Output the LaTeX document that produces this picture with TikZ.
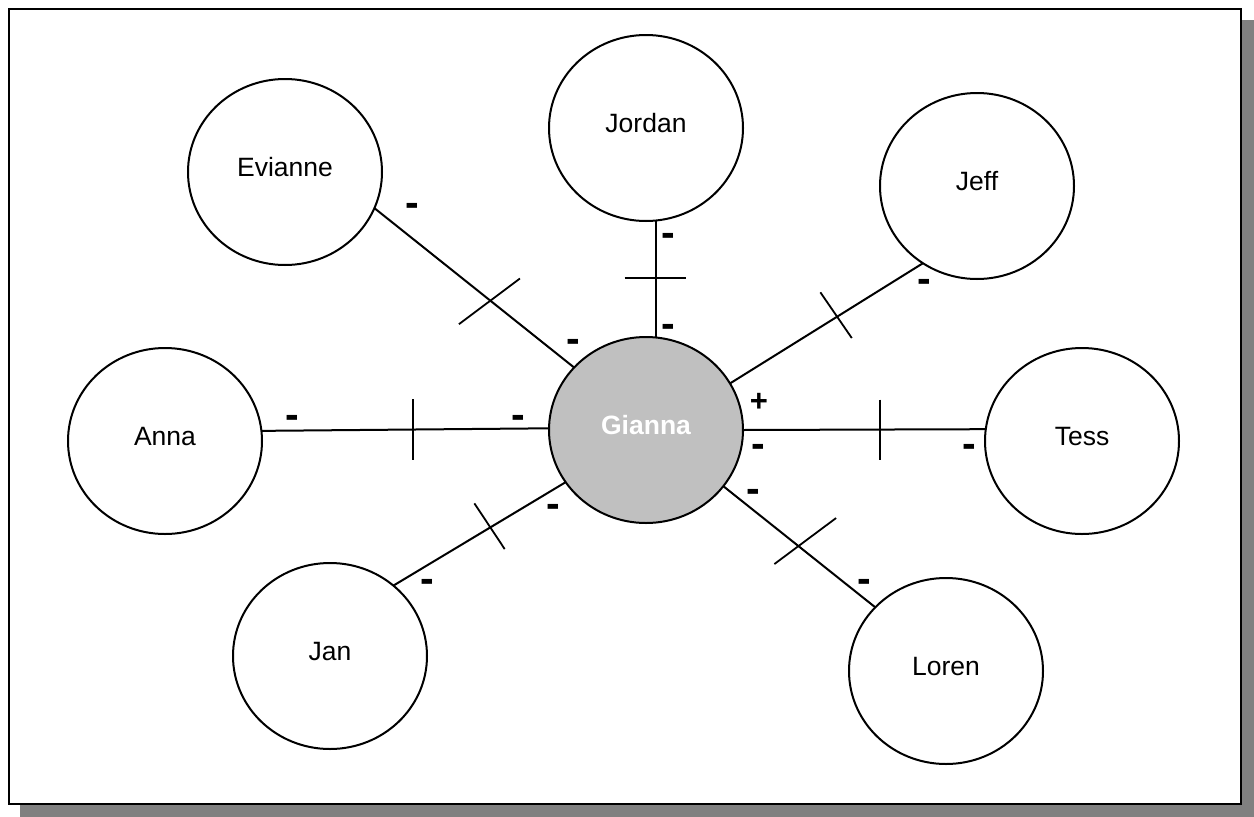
\documentclass[tikz,border=0pt]{standalone}
\usepackage{fontspec}
\setmainfont{Liberation Sans}
\usetikzlibrary{shapes.geometric,calc}
\definecolor{shadowgray}{HTML}{808080}
\definecolor{centergray}{HTML}{C0C0C0}
\begin{document}
\begin{tikzpicture}[x=1pt,y=-1pt,
  person/.style={ellipse, draw, line width=2pt, fill=white,
    minimum width=194pt, minimum height=186pt, inner sep=0pt, outer sep=0pt,
    font=\fontsize{26.5}{30}\selectfont, text height=19pt, text depth=10pt},
  link/.style={line width=2pt},
  tickmark/.style={line width=1.8pt},
  minussign/.style={font=\fontsize{41}{44}\selectfont\bfseries, inner sep=0pt,
    text height=21.3pt, text depth=0pt},
  plussign/.style={font=\fontsize{31}{34}\selectfont\bfseries, inner sep=0pt,
    text height=22pt, text depth=0pt}
]
\useasboundingbox (0,0) rectangle (1254,817);
\fill[shadowgray] (20,20) rectangle (1254,817);
\draw[line width=2pt, fill=white] (9,9) rectangle (1241,804);

% people
\node[person, fill=centergray, text=white, font=\fontsize{26.5}{30}\selectfont\bfseries] (gianna) at (646,430) {Gianna};
\node[person] (jordan)  at (646,128) {Jordan};
\node[person] (evianne) at (285,172) {Evianne};
\node[person] (jeff)    at (977,186) {Jeff};
\node[person] (anna)    at (165,441) {Anna};
\node[person] (tess)    at (1082,441) {Tess};
\node[person] (jan)     at (330,656) {Jan};
\node[person] (loren)   at (946,671) {Loren};

% links
\draw[link] (gianna.84.4)  -- (jordan.-84.5)  coordinate[pos=0.507] (tJordan);
\draw[link] (gianna.139.2) -- (evianne.-22.2) coordinate[pos=0.418] (tEvianne);
\draw[link] (gianna.29.6)  -- (jeff.235)      coordinate[pos=0.555] (tJeff);
\draw[link] (gianna.179.6) -- (anna.6.8)      coordinate[pos=0.474] (tAnna);
\draw[link] (gianna.0.4)   -- (tess.173)      coordinate[pos=0.565] (tTess);
\draw[link] (gianna.213)   -- (jan.48)        coordinate[pos=0.437] (tJan);
\draw[link] (gianna.-36.5) -- (loren.138.3)   coordinate[pos=0.494] (tLoren);

% tick marks
\draw[tickmark] ($(tJordan)+(-31,0)$) -- ($(tJordan)+(30.3,0)$);
\draw[tickmark] ($(tEvianne)+(-31.7,23.3)$) -- ($(tEvianne)+(29.3,-22.4)$);
\draw[tickmark] ($(tJeff)+(-16.7,-24.4)$) -- ($(tJeff)+(14.7,21.3)$);
\draw[tickmark] ($(tAnna)+(0,-30.3)$) -- ($(tAnna)+(0,30)$);
\draw[tickmark] ($(tTess)+(0,-30)$) -- ($(tTess)+(0,30)$);
\draw[tickmark] ($(tJan)+(-16,-24)$) -- ($(tJan)+(14.3,21.7)$);
\draw[tickmark] ($(tLoren)+(-24,18)$) -- ($(tLoren)+(37.7,-28)$);

% signs
\node[minussign] (sJo1) at (668.3,235.8) {-};
\node[minussign] (sJo2) at (668.3,327.2) {-};
\node[minussign] (sEv1) at (412.8,205.8) {-};
\node[minussign] (sEv2) at (573,342) {-};
\node[minussign] (sAn1) at (292.3,417.5) {-};
\node[minussign] (sAn2) at (518.3,417.5) {-};
\node[plussign]  (sTe0) at (759,400) {+};
\node[minussign] (sTe1) at (758.3,447) {-};
\node[minussign] (sTe2) at (969.7,447) {-};
\node[minussign] (sJe1) at (924.2,282.2) {-};
\node[minussign] (sJa1) at (553.3,507.2) {-};
\node[minussign] (sJa2) at (427.7,582.2) {-};
\node[minussign] (sLo1) at (753.3,492.2) {-};
\node[minussign] (sLo2) at (864,582.2) {-};
\end{tikzpicture}
\end{document}
